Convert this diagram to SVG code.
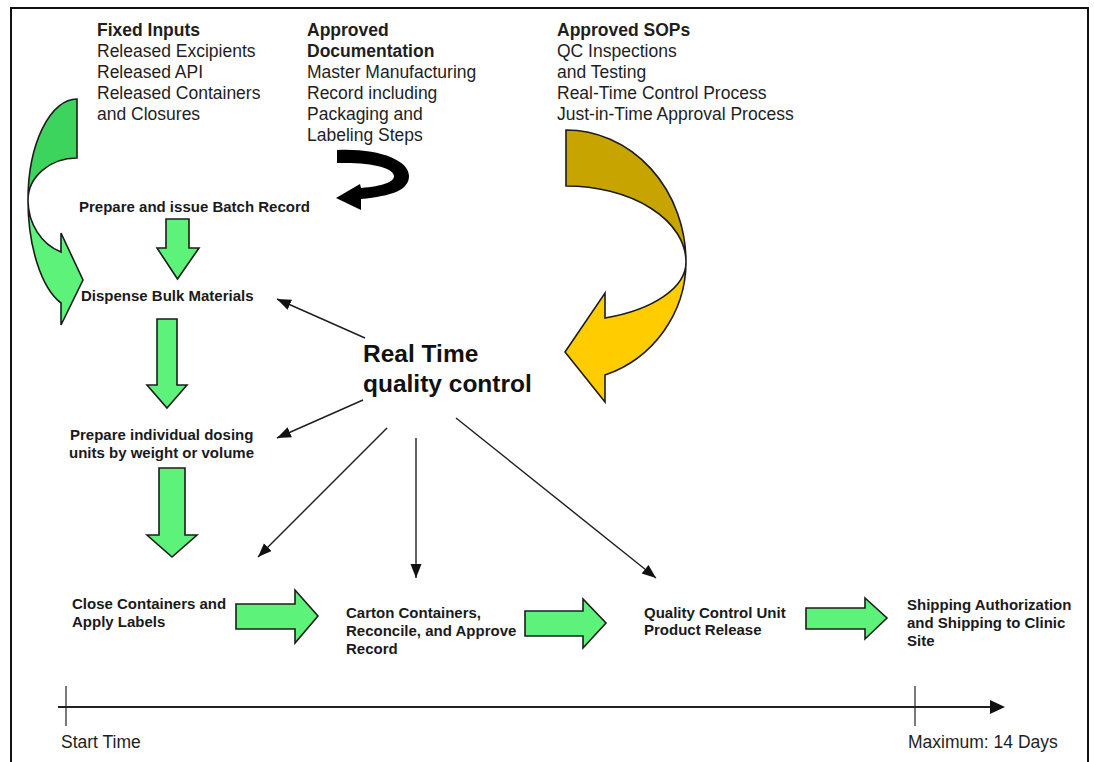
<svg xmlns="http://www.w3.org/2000/svg" width="1094" height="762" viewBox="0 0 1094 762">
  <defs>
    <style>
      .hd { font-family: "Liberation Sans", Arial, sans-serif; font-size: 17.5px; fill: #1e1e1e; }
      .hd .b { font-weight: bold; }
      .lbl { font-family: "Liberation Sans", Arial, sans-serif; font-size: 15px; font-weight: bold; fill: #1a1a1a; }
      .big { font-family: "Liberation Sans", Arial, sans-serif; font-size: 24.5px; font-weight: bold; fill: #111; }
      .time { font-family: "Liberation Sans", Arial, sans-serif; font-size: 17.5px; fill: #1e1e1e; }
      .flow { fill: #5DF27A; stroke: #1c1c1c; stroke-width: 1.6; stroke-linejoin: miter; }
      .flowBack { fill: #3CD45C; stroke: #1c1c1c; stroke-width: 1.6; }
      .goldBack { fill: #C8A400; stroke: #1c1c1c; stroke-width: 1.6; }
      .goldFront { fill: #FFCC00; stroke: #1c1c1c; stroke-width: 1.6; }
      .qc { stroke: #1e1e1e; stroke-width: 1.4; fill: none; marker-end: url(#tip); }
    </style>
    <marker id="tip" markerUnits="userSpaceOnUse" markerWidth="15" markerHeight="12" refX="14" refY="5.5" orient="auto">
      <path d="M0,0 L14,5.5 L0,11 Z" fill="#111"/>
    </marker>
  </defs>

  <rect width="1094" height="762" fill="#fff"/>
  <!-- outer frame, open at the bottom edge of the page -->
  <rect x="11" y="8" width="1077" height="800" fill="none" stroke="#111" stroke-width="2"/>

  <!-- input headings -->
  <g id="fixed-inputs" class="hd">
    <text x="97" y="36" class="b">Fixed Inputs</text>
    <text x="97" y="57">Released Excipients</text>
    <text x="97" y="78">Released API</text>
    <text x="97" y="99">Released Containers</text>
    <text x="97" y="120">and Closures</text>
  </g>
  <g id="approved-documentation" class="hd">
    <text x="307" y="36" class="b">Approved</text>
    <text x="307" y="57" class="b">Documentation</text>
    <text x="307" y="78">Master Manufacturing</text>
    <text x="307" y="99">Record including</text>
    <text x="307" y="120">Packaging and</text>
    <text x="307" y="141">Labeling Steps</text>
  </g>
  <g id="approved-sops" class="hd">
    <text x="557" y="36" class="b">Approved SOPs</text>
    <text x="557" y="57">QC Inspections</text>
    <text x="557" y="78">and Testing</text>
    <text x="557" y="99">Real-Time Control Process</text>
    <text x="557" y="120">Just-in-Time Approval Process</text>
  </g>

  <!-- curved feed arrows -->
  <g id="fixed-inputs-feed">
    <path class="flowBack" d="M77,99 A49,101 0 0 0 28,200 A49,42 0 0 1 77,158 Z"/>
    <path class="flow" d="M28,200 A49,109 0 0 0 61,303 L61,325 L83,280 L61,233 L61,252 A49,55 0 0 1 28,200 Z"/>
  </g>
  <g id="documentation-feed">
    <path fill="#000" d="M337,150 C378,148 409,160 409,176 C409,190 392,196 361,199 L361,210 L336,198 L360,184 L361,188 C383,186 394,182 394,176 C394,168 372,162 337,163 Z"/>
  </g>
  <g id="sops-feed">
    <path class="goldBack" d="M566,130 A120,132 0 0 1 686,262 A120,76 0 0 0 566,186 Z"/>
    <path class="goldFront" d="M686,262 A120,120 0 0 1 605,375 L605,402 L565,352 L605,293 L605,318 A120,59 0 0 0 686,262 Z"/>
  </g>

  <!-- process steps -->
  <g id="batch-record"><text class="lbl" x="79" y="212">Prepare and issue Batch Record</text></g>
  <g id="dispense"><text class="lbl" x="81" y="301">Dispense Bulk Materials</text></g>
  <g id="dosing">
    <text class="lbl" x="70" y="440">Prepare individual dosing</text>
    <text class="lbl" x="69" y="458">units by weight or volume</text>
  </g>
  <g id="close-containers">
    <text class="lbl" x="72" y="609">Close Containers and</text>
    <text class="lbl" x="72" y="627">Apply Labels</text>
  </g>
  <g id="carton">
    <text class="lbl" x="346" y="618">Carton Containers,</text>
    <text class="lbl" x="346" y="636">Reconcile, and Approve</text>
    <text class="lbl" x="346" y="654">Record</text>
  </g>
  <g id="qc-release">
    <text class="lbl" x="644" y="618">Quality Control Unit</text>
    <text class="lbl" x="644" y="635">Product Release</text>
  </g>
  <g id="shipping">
    <text class="lbl" x="907" y="610">Shipping Authorization</text>
    <text class="lbl" x="907" y="628">and Shipping to Clinic</text>
    <text class="lbl" x="907" y="646">Site</text>
  </g>
  <g id="real-time-qc">
    <text class="big" x="363" y="362">Real Time</text>
    <text class="big" x="363" y="392">quality control</text>
  </g>

  <!-- connectors -->
  <g id="connectors">
    <!-- block arrows between steps -->
    <path class="flow" d="M166,219 H189 V248 H199 L177.5,279 L157,248 H166 Z"/>
    <path class="flow" d="M157,319 H177 V385 H187 L167,408 L147,385 H157 Z"/>
    <path class="flow" d="M159,468 H185 V535 H197 L172,557 L147,535 H159 Z"/>
    <path class="flow" d="M236,604 H295 V590 L318,616 L295,643 V629 H236 Z"/>
    <path class="flow" d="M525,611 H583 V599 L606,623 L583,648 V636 H525 Z"/>
    <path class="flow" d="M806,608 H865 V598 L887,618 L865,639 V629 H806 Z"/>
    <!-- real-time quality control links -->
    <line class="qc" x1="365" y1="338" x2="277" y2="299"/>
    <line class="qc" x1="363" y1="400" x2="277" y2="438"/>
    <line class="qc" x1="387" y1="428" x2="258" y2="557"/>
    <line class="qc" x1="416" y1="438" x2="416" y2="578"/>
    <line class="qc" x1="456" y1="418" x2="656" y2="578"/>
  </g>

  <!-- time axis -->
  <g id="timeline">
    <line x1="58" y1="707" x2="992" y2="707" stroke="#222" stroke-width="1.8"/>
    <path d="M990,700 L1005,707 L990,714 Z" fill="#111"/>
    <line x1="66" y1="686" x2="66" y2="726" stroke="#222" stroke-width="1.2"/>
    <line x1="915" y1="686" x2="915" y2="726" stroke="#222" stroke-width="1.2"/>
    <text class="time" x="61" y="748">Start Time</text>
    <text class="time" x="908" y="748">Maximum: 14 Days</text>
  </g>
</svg>
